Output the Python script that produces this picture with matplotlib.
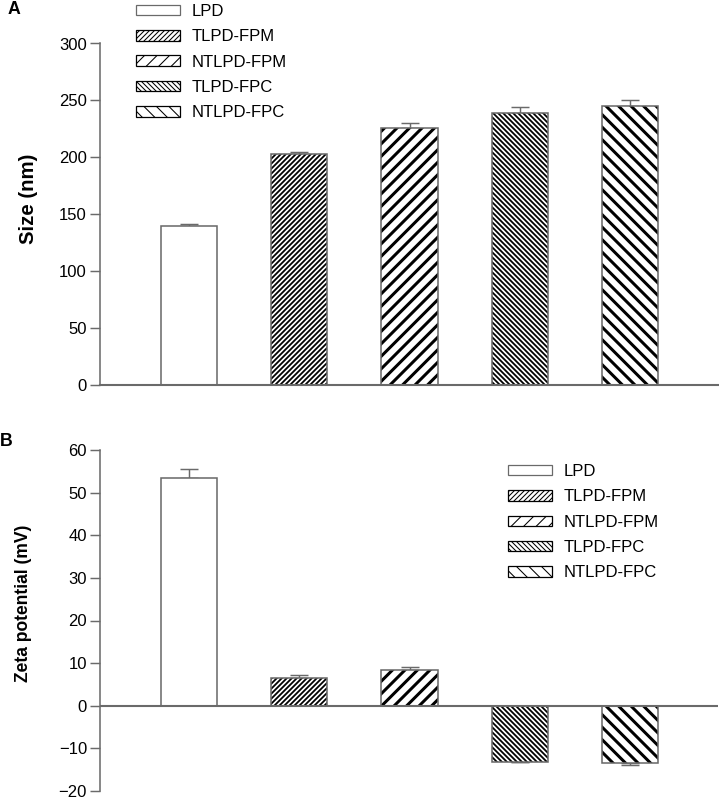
import matplotlib
matplotlib.use("Agg")
import matplotlib.pyplot as plt
from matplotlib.patches import Patch

# data
groups = ["LPD", "TLPD-FPM", "NTLPD-FPM", "TLPD-FPC", "NTLPD-FPC"]
size_nm = [139.7, 202.7, 226.0, 239.3, 245.0]
size_err = [1.3, 1.8, 3.9, 4.7, 5.8]
zeta_mv = [53.5, 6.5, 8.3, -13.1, -13.5]
zeta_err = [2.0, 0.8, 0.9, 0.2, 0.3]

hatches = ["", "/////", "//", "\\\\\\\\\\", "\\\\"]
hatch_lw = [1.0, 1.7, 2.9, 1.7, 2.9]

DPI = 75
GRAY = "#6a6a6a"
plt.rcParams["font.family"] = ["Liberation Sans", "DejaVu Sans"]
plt.rcParams["hatch.color"] = "black"

fig = plt.figure(figsize=(719 / DPI, 801 / DPI), dpi=DPI)
ax1 = fig.add_axes([100 / 719, 1 - 385 / 801, 618 / 719, 341.5 / 801])
ax2 = fig.add_axes([100 / 719, 1 - 791 / 801, 618 / 719, 341 / 801])

x = list(range(len(groups)))


def draw_bars(ax, vals, errs):
    for i, v in enumerate(vals):
        with plt.rc_context({"hatch.linewidth": hatch_lw[i]}):
            b = ax.bar(x[i], v, width=0.51, color="white", edgecolor="black",
                       hatch=hatches[i], linewidth=0, zorder=2)
            if hasattr(b[0], "set_hatch_linewidth"):
                b[0].set_hatch_linewidth(hatch_lw[i])
        ax.bar(x[i], v, width=0.51, fill=False, edgecolor=GRAY,
               linewidth=1.5, zorder=3)
        yerr = [[0], [errs[i]]] if v >= 0 else [[errs[i]], [0]]
        ax.errorbar(x[i], v, yerr=yerr, fmt="none", ecolor=GRAY,
                    elinewidth=1.4, capsize=9, capthick=1.4, zorder=1)


def style_axis(ax):
    ax.set_xlim(-0.81, 4.8)
    ax.set_xticks([])
    for s in ["top", "right"]:
        ax.spines[s].set_visible(False)
    ax.spines["left"].set_color(GRAY)
    ax.spines["left"].set_linewidth(1.5)
    ax.tick_params(axis="y", length=9.5, width=1.4, color=GRAY,
                   labelsize=16, pad=3)


def legend_handles():
    hs = []
    for i, g in enumerate(groups):
        with plt.rc_context({"hatch.linewidth": hatch_lw[i]}):
            p = Patch(facecolor="white", edgecolor="black" if i else GRAY,
                      hatch=hatches[i], linewidth=1.2, label=g)
            if hasattr(p, "set_hatch_linewidth"):
                p.set_hatch_linewidth(hatch_lw[i])
        hs.append(p)
    return hs


# panel A: particle size
draw_bars(ax1, size_nm, size_err)
style_axis(ax1)
ax1.set_ylim(0, 300)
ax1.set_yticks(range(0, 301, 50))
ax1.spines["bottom"].set_color(GRAY)
ax1.spines["bottom"].set_linewidth(2)
ax1.set_ylabel("Size (nm)", fontsize=19.5, fontweight="bold")
ax1.yaxis.set_label_coords(-0.1, 0.545)

# panel B: zeta potential
draw_bars(ax2, zeta_mv, zeta_err)
style_axis(ax2)
ax2.set_ylim(-20, 60)
ax2.set_yticks(range(-20, 61, 10))
ax2.spines["bottom"].set_visible(False)
ax2.axhline(0, color=GRAY, linewidth=2, zorder=4)
ax2.set_ylabel("Zeta potential (mV)", fontsize=16.8, fontweight="bold")
ax2.yaxis.set_label_coords(-0.11, 0.55)

leg_kw = dict(frameon=False, fontsize=16, handlelength=2.65,
              handleheight=0.6, handletextpad=0.68, labelspacing=0.62,
              borderpad=0, borderaxespad=0, loc="upper left")
fig.legend(handles=legend_handles(), bbox_to_anchor=(136 / 719, 1 - 4 / 801),
           **leg_kw)
fig.legend(handles=legend_handles(), bbox_to_anchor=(508 / 719, 1 - 464 / 801),
           **leg_kw)

fig.text(8 / 719, 1 - 1 / 801, "A", fontsize=17, fontweight="bold", va="top")
fig.text(0 / 719, 1 - 433 / 801, "B", fontsize=17, fontweight="bold", va="top")

fig.savefig("out.png", dpi=DPI)
